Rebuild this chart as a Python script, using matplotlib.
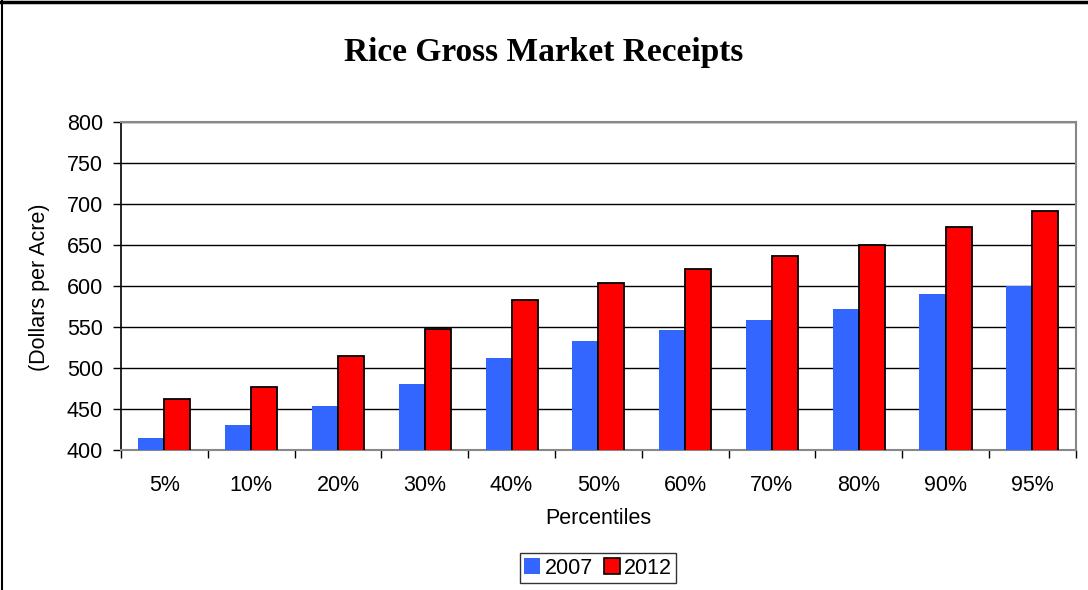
import numpy as np
import matplotlib.pyplot as plt
from matplotlib.patches import Patch
from matplotlib.lines import Line2D

percentiles = ["5%", "10%", "20%", "30%", "40%", "50%", "60%", "70%", "80%", "90%", "95%"]
receipts_2007 = [415, 430, 454, 481, 512, 533, 546, 558, 572, 590, 600]
receipts_2012 = [462, 477, 514, 547, 583, 603, 621, 636, 650, 672, 691]

blue = "#3366ff"
red = "#ff0000"

plt.rcParams['font.family'] = ['Liberation Sans', 'DejaVu Sans']

fig = plt.figure(figsize=(10.88, 5.90), dpi=100)
ax = fig.add_axes([121 / 1088, 1 - 450 / 590, (1075.7 - 121) / 1088, (450 - 121.7) / 590])

x = np.arange(len(percentiles))
w = 0.3
ax.bar(x - w / 2, receipts_2007, w, color=blue, edgecolor="none", zorder=3, label="2007")
ax.bar(x + w / 2, receipts_2012, w, color=red, edgecolor="black", linewidth=1.3, zorder=3, label="2012")

ax.set_xlim(-0.5, len(percentiles) - 0.5)
ax.set_ylim(400, 800)
ax.set_yticks(np.arange(400, 801, 50))
ax.yaxis.grid(True, color="black", linewidth=1.0, zorder=0)
ax.set_axisbelow(True)

# category labels centred, ticks at group boundaries
ax.set_xticks(x)
ax.set_xticklabels(percentiles, fontsize=15.5)
ax.tick_params(axis="x", which="major", length=0, pad=18)
ax.set_xticks(np.arange(-0.5, len(percentiles), 1), minor=True)
ax.tick_params(axis="x", which="minor", length=6, width=1, direction="out")
ax.tick_params(axis="y", labelsize=15.5, length=6, width=1, pad=7)

for s in ["top", "right"]:
    ax.spines[s].set_color("#888888")
    ax.spines[s].set_linewidth(1.5)
ax.spines["left"].set_linewidth(1.2)
ax.spines["bottom"].set_color("#888888")
ax.spines["bottom"].set_linewidth(1.5)

fig.text(0.5, 1 - 52 / 590, "Rice Gross Market Receipts", ha="center", va="center",
         fontsize=24, fontweight="bold", family=["Liberation Serif", "DejaVu Serif"])
fig.text((121 + 1075.7) / 2 / 1088, 1 - 519 / 590, "Percentiles", ha="center", va="center", fontsize=15.5)
fig.text(40 / 1088, 1 - 287 / 590, "(Dollars per Acre)", ha="center", va="center", rotation=90, fontsize=15.5)

handles = [Patch(facecolor=blue, edgecolor="none"), Patch(facecolor=red, edgecolor="black", linewidth=1.2)]
leg = fig.legend(handles, ["2007", "2012"], loc="center", bbox_to_anchor=(598 / 1088, 1 - 568 / 590),
                 ncol=2, fontsize=15.5, frameon=True, fancybox=False, handlelength=0.75, handleheight=0.75,
                 handletextpad=0.2, columnspacing=0.5, borderpad=0.2, borderaxespad=0)
leg.get_frame().set_edgecolor("black")
leg.get_frame().set_linewidth(1.0)

# outer border (top and left only visible)
fig.add_artist(Line2D([0, 1], [1 - 2 / 590, 1 - 2 / 590], color="black", linewidth=2.5, transform=fig.transFigure))
fig.add_artist(Line2D([1.5 / 1088, 1.5 / 1088], [0, 1], color="black", linewidth=1.5, transform=fig.transFigure))

fig.savefig("out.png", dpi=100)
